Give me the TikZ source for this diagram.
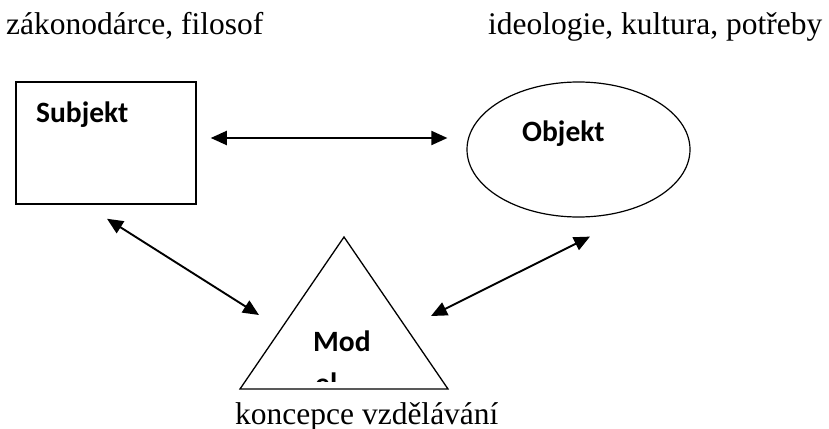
\documentclass[tikz,border=0pt]{standalone}
\usepackage{fontspec}
\setmainfont{Liberation Serif}
\newfontfamily\calfont{Carlito}
\usetikzlibrary{arrows.meta}
\usetikzlibrary{shapes.geometric}

\begin{document}
\begin{tikzpicture}[
  x=1pt, y=-1pt,
  box/.style={rectangle, draw=black, line width=1.5pt, inner sep=0pt,
    minimum width=180pt, minimum height=122pt},
  oval/.style={ellipse, draw=black, line width=1.2pt, inner sep=0pt,
    minimum width=223pt, minimum height=135pt},
  title/.style={inner sep=0pt, anchor=base west,
    font=\calfont\bfseries\fontsize{29.5}{35}\selectfont},
  caption/.style={inner sep=0pt, anchor=base west,
    font=\fontsize{31.5}{38}\selectfont},
  arrow/.style={{Triangle[length=16pt,width=14pt]}-{Triangle[length=16pt,width=14pt]},
    line width=1.9pt, draw=black},
]
\useasboundingbox (0,0) rectangle (829,428);

% === Captions ===
\node[caption] (who) at (6,35) {zákonodárce, filosof};
\node[caption] (what) at (488,35) {ideologie, kultura, potřeby};
\node[caption] (concept) at (235,424) {koncepce vzdělávání};

% === Subjekt and Objekt ===
\node[box] (subj) at (106,143) {};
\node[title] (subjtext) at (36,122) {Subjekt};
\node[oval] (obj) at (578.5,149.5) {};
\node[title] (objtext) at (522,141) {Objekt};

% === Model triangle ===
\coordinate (mtop) at (344,237);
\coordinate (mleft) at (240,389);
\coordinate (mright) at (448,389);
\draw[line width=1.3pt] (mleft) -- (mtop) -- (mright) -- cycle;
\node[title] (modtext) at (313,351) {Mod};
\begin{scope}
  \clip (300,360) rectangle (370,381);
  \node[title] (modrest) at (315,393) {el};
\end{scope}

% === Arrows ===
\coordinate (tipa) at (259,315);
\coordinate (tipb) at (431,316);
\draw[arrow] ([xshift=14pt, yshift=5pt]subj.east) -- ([xshift=-19pt, yshift=11.5pt]obj.west);
\draw[arrow] ([xshift=1pt, yshift=-14pt]subj.south) -- (tipa);
\draw[arrow] ([xshift=11.5pt, yshift=-19pt]obj.south) -- (tipb);
\end{tikzpicture}
\end{document}
